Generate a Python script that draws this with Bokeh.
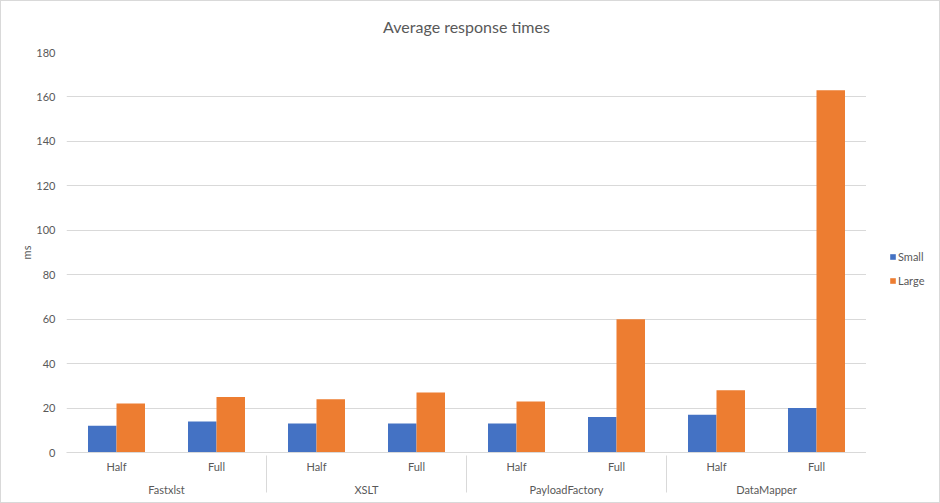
from bokeh.plotting import figure
from bokeh.layouts import row
from bokeh.models import ColumnDataSource, FactorRange, Range1d, Legend, LegendItem
from bokeh.transform import dodge
from bokeh.embed import file_html
from bokeh.resources import INLINE

title = "Average response times"
groups = ["Fastxlst", "XSLT", "PayloadFactory", "DataMapper"]
subs = ["Half", "Full"]
small = [12, 14, 13, 13, 13, 16, 17, 20]
large = [22, 25, 24, 27, 23, 60, 28, 163]
series_names = ["Small", "Large"]
y_ticks = [0, 20, 40, 60, 80, 100, 120, 140, 160, 180]
y_label = "ms"

FONT = "Lato"
TXT = "#595959"
GRID = "#d9d9d9"
BLUE = "#4472C4"
ORANGE = "#ED7D31"

factors = [(g, s) for g in groups for s in subs]
source = ColumnDataSource(dict(x=factors, small=small, large=large))

p = figure(
    x_range=FactorRange(*factors, range_padding=0, group_padding=0, factor_padding=0),
    y_range=Range1d(0, 180),
    width=865, height=501,
    output_backend="svg", toolbar_location=None,
    min_border_left=65, min_border_right=0, min_border_top=51, min_border_bottom=50,
    title=title,
)
p.title.align = "center"
p.title.vertical_align = "top"
p.title.text_font = FONT
p.title.text_font_size = "12pt"
p.title.text_font_style = "normal"
p.title.text_color = TXT
p.title.standoff = 29

bw = 0.285
r1 = p.vbar(x=dodge("x", -bw / 2, range=p.x_range), top="small", width=bw, source=source,
            fill_color=BLUE, line_color=None)
r2 = p.vbar(x=dodge("x", bw / 2, range=p.x_range), top="large", width=bw, source=source,
            fill_color=ORANGE, line_color=None)

p.outline_line_color = None
p.xgrid.grid_line_color = None
p.ygrid.grid_line_color = GRID
p.yaxis.ticker = y_ticks
p.yaxis.axis_line_color = None
p.yaxis.major_tick_line_color = None
p.yaxis.minor_tick_line_color = None
p.yaxis.major_tick_out = 0
p.yaxis.major_tick_in = 0
p.yaxis.minor_tick_out = 0
p.yaxis.major_label_standoff = 11
p.yaxis.major_label_text_font = FONT
p.yaxis.major_label_text_font_size = "11px"
p.yaxis.major_label_text_color = TXT
p.yaxis.axis_label = y_label
p.yaxis.axis_label_text_font = FONT
p.yaxis.axis_label_text_font_size = "11px"
p.yaxis.axis_label_text_font_style = "normal"
p.yaxis.axis_label_text_color = TXT
p.yaxis.axis_label_standoff = 0

xa = p.xaxis[0]
xa.axis_line_color = GRID
xa.major_tick_line_color = None
xa.minor_tick_line_color = None
xa.major_tick_out = 0
xa.major_tick_in = 0
xa.minor_tick_out = 0
xa.major_label_text_font = FONT
xa.major_label_text_font_size = "11px"
xa.major_label_text_color = TXT
xa.major_label_standoff = 7
xa.group_text_font = FONT
xa.group_text_font_size = "11px"
xa.group_text_font_style = "normal"
xa.group_text_color = TXT
xa.separator_line_color = GRID
xa.separator_line_width = 1

# legend panel as a narrow companion figure (zero-height key marks)
lg = figure(width=73, height=501, output_backend="svg", toolbar_location=None,
            x_range=Range1d(0, 1), y_range=Range1d(0, 1),
            x_axis_location=None, y_axis_location=None,
            min_border_left=0, min_border_right=0, min_border_top=0, min_border_bottom=0)
lg.outline_line_color = None
lg.grid.grid_line_color = None
k1 = lg.vbar(x=[0.5], top=[0], bottom=[0], width=0.1, fill_color=BLUE, line_color=None)
k2 = lg.vbar(x=[0.5], top=[0], bottom=[0], width=0.1, fill_color=ORANGE, line_color=None)

legend = Legend(items=[LegendItem(label=series_names[0], renderers=[k1]),
                       LegendItem(label=series_names[1], renderers=[k2])],
                location=(23, 162), orientation="vertical")
legend.glyph_width = 7
legend.glyph_height = 7
legend.label_height = 20
legend.spacing = 4
legend.padding = 0
legend.margin = 0
legend.label_standoff = 2
legend.label_text_font = FONT
legend.label_text_font_size = "11px"
legend.label_text_color = TXT
legend.background_fill_alpha = 0
legend.border_line_color = None
lg.add_layout(legend)

layout = row(p, lg, spacing=0)
layout.styles = {"border": "1px solid #d9d9d9", "box-sizing": "border-box", "width": "940px", "height": "503px"}

open("out.html", "w").write(file_html(layout, INLINE))
